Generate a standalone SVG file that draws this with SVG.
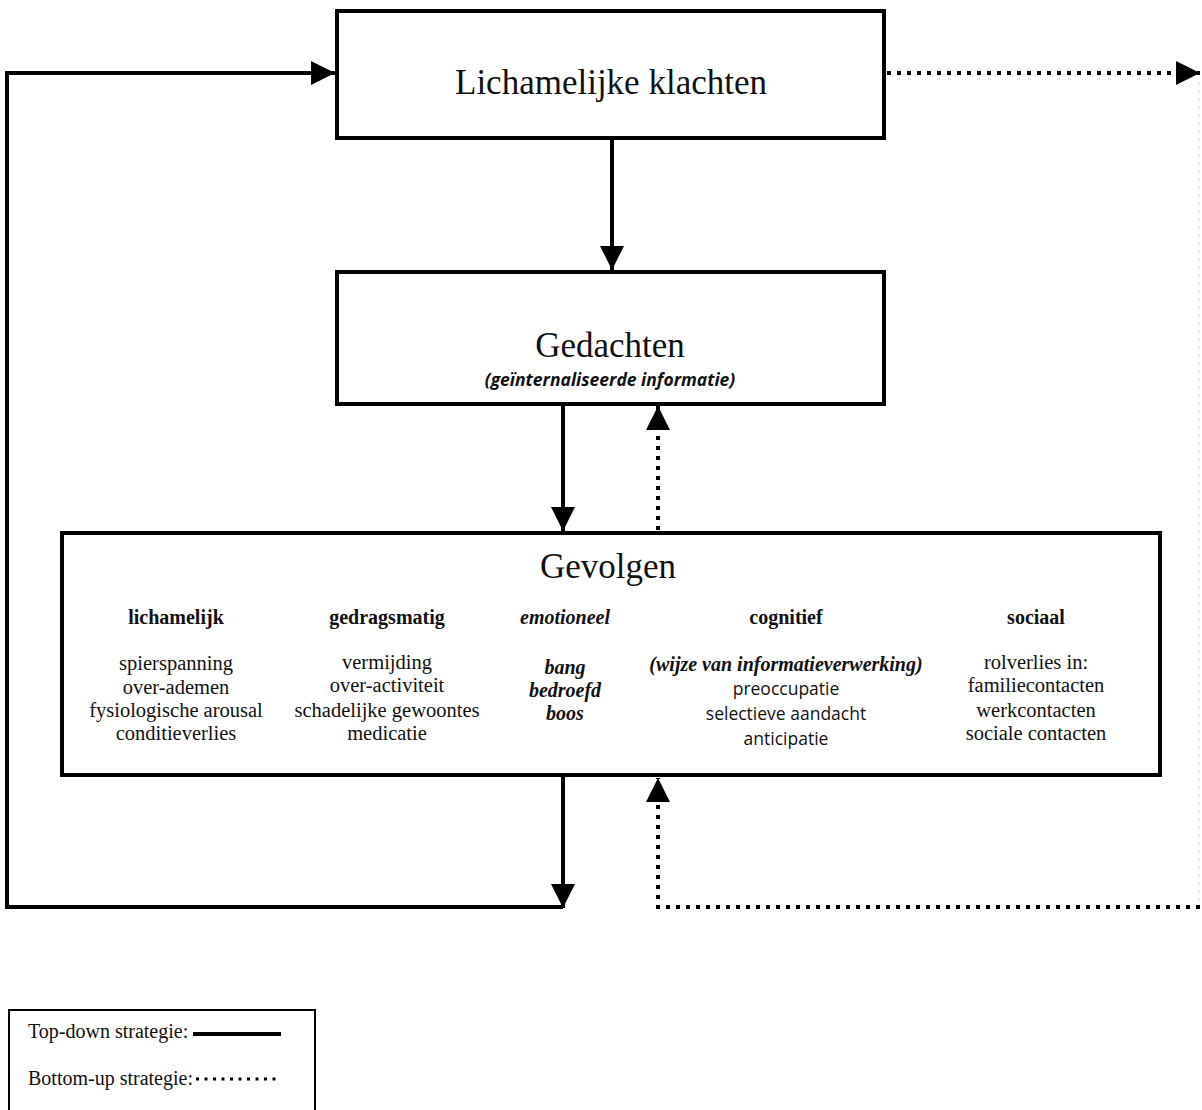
<svg xmlns="http://www.w3.org/2000/svg" width="1202" height="1110" viewBox="0 0 1202 1110">
<defs>
<style>
.box{fill:#fff;stroke:#000;stroke-width:4}
.solid{fill:none;stroke:#000;stroke-width:4}
.dot{fill:none;stroke:#000;stroke-width:4;stroke-dasharray:4 6}
.faint{fill:none;stroke:#e6e6e6;stroke-width:2;stroke-dasharray:3 5}
.title{font-family:"Liberation Serif",serif;font-size:35px;text-anchor:middle;fill:#111}
.sub{font-family:"Open Sans","Liberation Sans",sans-serif;font-size:17.5px;font-weight:bold;font-style:italic;text-anchor:middle;fill:#111}
.head{font-family:"Liberation Serif",serif;font-size:20px;font-weight:bold;text-anchor:middle;fill:#111}
.headi{font-family:"Liberation Serif",serif;font-size:20px;font-weight:bold;font-style:italic;text-anchor:middle;fill:#111}
.item{font-family:"Liberation Serif",serif;font-size:20.5px;text-anchor:middle;fill:#111}
.itemi{font-family:"Liberation Serif",serif;font-size:20px;font-weight:bold;font-style:italic;text-anchor:middle;fill:#111}
.itemsans{font-family:"Open Sans","Liberation Sans",sans-serif;font-size:17.5px;text-anchor:middle;fill:#111}
.leg{font-family:"Liberation Serif",serif;font-size:20px;fill:#111}
</style>
<marker id="ah" viewBox="0 0 10 10" refX="10" refY="5" markerWidth="6" markerHeight="6.5" markerUnits="strokeWidth" orient="auto">
<path d="M0,0 L10,5 L0,10 z" fill="#000"/>
</marker>
</defs>
<rect width="1202" height="1110" fill="#fff"/>

<g id="connectors">
<line class="faint" x1="1199" y1="82" x2="1199" y2="904"/>
<line class="solid" x1="612" y1="138" x2="612" y2="270" marker-end="url(#ah)"/>
<line class="solid" x1="563" y1="404" x2="563" y2="531" marker-end="url(#ah)"/>
<line class="dot" x1="658" y1="530" x2="658" y2="406" marker-end="url(#ah)"/>
<line class="solid" x1="563" y1="775" x2="563" y2="908" marker-end="url(#ah)"/>
<polyline class="solid" points="563,907 7,907 7,73 335,73" marker-end="url(#ah)"/>
<polyline class="dot" points="1200,907 658,907 658,778" marker-end="url(#ah)"/>
<line class="dot" x1="887" y1="73" x2="1200" y2="73" marker-end="url(#ah)"/>
</g>

<g id="node-lichamelijke-klachten">
<rect class="box" x="337" y="11" width="547" height="127"/>
<text class="title" x="611" y="94">Lichamelijke klachten</text>
</g>

<g id="node-gedachten">
<rect class="box" x="337" y="272" width="547" height="132"/>
<text class="title" x="610" y="357">Gedachten</text>
<text class="sub" x="610" y="386">(geïnternaliseerde informatie)</text>
</g>

<g id="node-gevolgen">
<rect class="box" x="62" y="533" width="1098" height="242"/>
<text class="title" x="608" y="578">Gevolgen</text>
<text class="head" x="176" y="624">lichamelijk</text>
<text class="head" x="387" y="624">gedragsmatig</text>
<text class="headi" x="565" y="624">emotioneel</text>
<text class="head" x="786" y="624">cognitief</text>
<text class="head" x="1036" y="624">sociaal</text>

<text class="item" x="176" y="670">spierspanning</text>
<text class="item" x="176" y="694">over-ademen</text>
<text class="item" x="176" y="717">fysiologische arousal</text>
<text class="item" x="176" y="740">conditieverlies</text>

<text class="item" x="387" y="669">vermijding</text>
<text class="item" x="387" y="692">over-activiteit</text>
<text class="item" x="387" y="717">schadelijke gewoontes</text>
<text class="item" x="387" y="740">medicatie</text>

<text class="itemi" x="565" y="674">bang</text>
<text class="itemi" x="565" y="697">bedroefd</text>
<text class="itemi" x="565" y="720">boos</text>

<text class="itemi" x="786" y="671">(wijze van informatieverwerking)</text>
<text class="itemsans" x="786" y="695">preoccupatie</text>
<text class="itemsans" x="786" y="720">selectieve aandacht</text>
<text class="itemsans" x="786" y="745">anticipatie</text>

<text class="item" x="1036" y="669">rolverlies in:</text>
<text class="item" x="1036" y="692">familiecontacten</text>
<text class="item" x="1036" y="717">werkcontacten</text>
<text class="item" x="1036" y="740">sociale contacten</text>
</g>

<g id="legend">
<rect x="9" y="1010" width="306" height="110" fill="#fff" stroke="#000" stroke-width="2"/>
<text class="leg" x="28" y="1038">Top-down strategie:</text>
<line x1="193" y1="1034" x2="281" y2="1034" stroke="#000" stroke-width="4"/>
<text class="leg" x="28" y="1085">Bottom-up strategie:</text>
<line x1="196" y1="1079" x2="281" y2="1079" stroke="#000" stroke-width="3" stroke-dasharray="3 5.5"/>
</g>
</svg>
